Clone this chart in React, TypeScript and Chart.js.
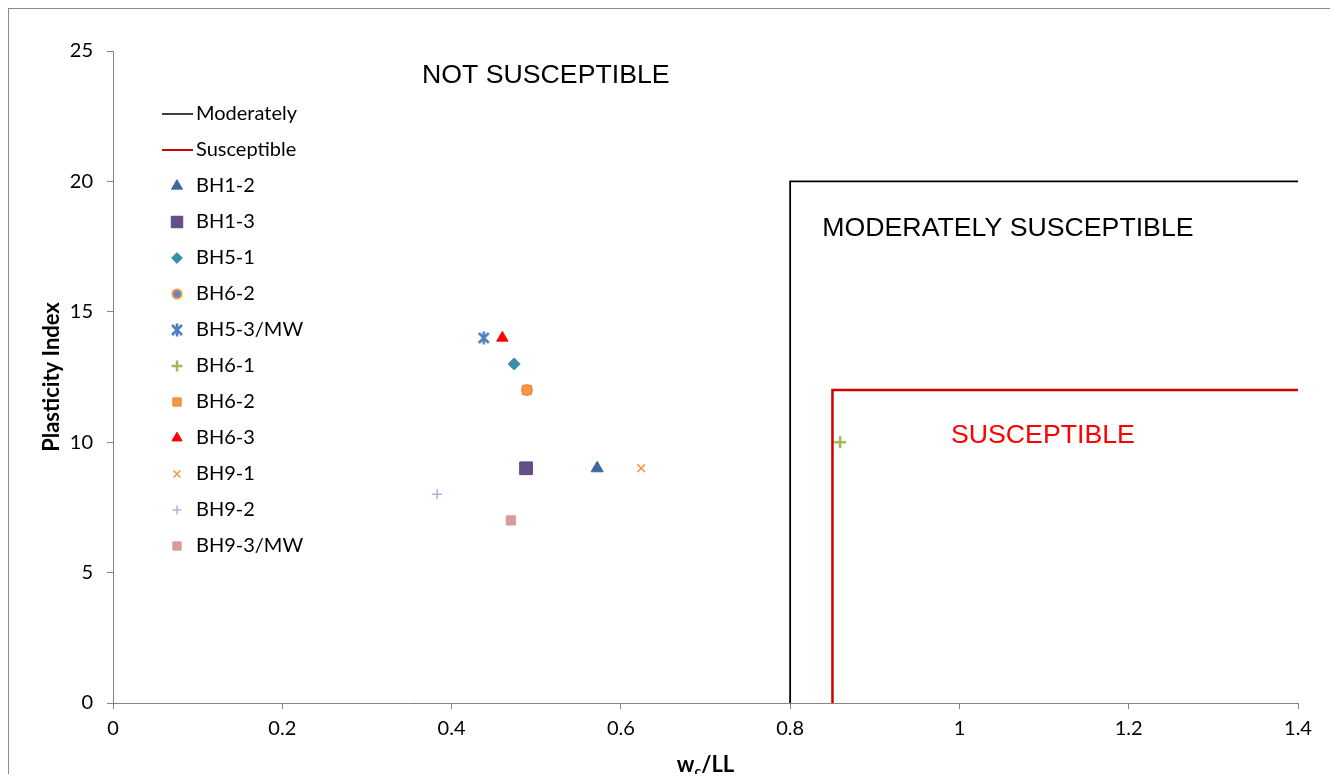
import React, { useEffect, useRef } from 'react';
import { Chart, registerables, PointElement } from 'chart.js';

Chart.register(...registerables);

// ---- data ----
const seriesNames = ['BH1-2', 'BH1-3', 'BH5-1', 'BH6-2', 'BH5-3/MW', 'BH6-1', 'BH6-2', 'BH6-3', 'BH9-1', 'BH9-2', 'BH9-3/MW'];
const seriesX = [0.572, 0.488, 0.474, 0.489, 0.438, 0.859, 0.489, 0.46, 0.624, 0.383, 0.47];
const seriesY = [9, 9, 13, 12, 14, 10, 12, 14, 9, 8, 7];

const moderatelyX = [0.8, 0.8, 1.4];
const moderatelyY = [0, 20, 20];
const susceptibleX = [0.85, 0.85, 1.4];
const susceptibleY = [0, 12, 12];

const annotationTexts = ['NOT SUSCEPTIBLE', 'MODERATELY SUSCEPTIBLE', 'SUSCEPTIBLE'];
const annotationX = [0.365, 0.838, 0.99];
const annotationY = [24.04, 18.17, 10.24];
const annotationColors = ['#000000', '#000000', '#FF0000'];

const xTickValues = [0, 0.2, 0.4, 0.6, 0.8, 1, 1.2, 1.4];
const yTickValues = [0, 5, 10, 15, 20, 25];

// ---- styles ----
function makeAsterisk(color: string): HTMLCanvasElement {
  const c = document.createElement('canvas');
  c.width = 16;
  c.height = 16;
  const g = c.getContext('2d')!;
  g.strokeStyle = color;
  g.lineWidth = 2.6;
  g.lineCap = 'butt';
  g.beginPath();
  g.moveTo(3, 3);
  g.lineTo(13, 13);
  g.moveTo(13, 3);
  g.lineTo(3, 13);
  g.moveTo(8, 1.5);
  g.lineTo(8, 14.5);
  g.stroke();
  return c;
}

const seriesStyles: any[] = [
  { pointStyle: 'triangle', radius: 7, bg: '#3E68A3', border: '#3E68A3', bw: 1 },
  { pointStyle: 'rect', radius: 9, bg: '#654F8A', border: '#5E4880', bw: 1 },
  { pointStyle: 'rectRot', radius: 6, bg: '#3A8EA5', border: '#3A8EA5', bw: 1 },
  { pointStyle: 'circle', radius: 5, bg: '#5B87C6', border: '#F79646', bw: 2 },
  { pointStyle: 'asterisk', radius: 7, bg: '#4F7FC0', border: '#4F7FC0', bw: 1 },
  { pointStyle: 'cross', radius: 6, bg: '#9BBB59', border: '#9BBB59', bw: 2.5 },
  { pointStyle: 'rect', radius: 6.5, bg: '#F79646', border: '#E8873A', bw: 1 },
  { pointStyle: 'triangle', radius: 6.5, bg: '#FF0000', border: '#FF0000', bw: 1 },
  { pointStyle: 'crossRot', radius: 5.5, bg: '#F79646', border: '#F79646', bw: 1.5 },
  { pointStyle: 'cross', radius: 5, bg: '#A5B8DA', border: '#A5B8DA', bw: 1.5 },
  { pointStyle: 'rect', radius: 6.5, bg: '#DA9A9A', border: '#DA9A9A', bw: 1 },
];

const FONT = 'Lato';
const TICK_SIZE = 20;
const AXIS_COLOR = '#868686';

const fmt = (v: number) => String(Number(Number(v).toFixed(1)));

const customPlugin = {
  id: 'customDraw',
  afterDraw(chart: any) {
    const ctx: CanvasRenderingContext2D = chart.ctx;
    const area = chart.chartArea;
    const xs = chart.scales.x;
    const ys = chart.scales.y;
    ctx.save();

    // outer frame (top and left edges visible)
    ctx.strokeStyle = '#8C8C8C';
    ctx.lineWidth = 2;
    ctx.beginPath();
    ctx.moveTo(0, 0);
    ctx.lineTo(chart.width, 0);
    ctx.stroke();
    ctx.lineWidth = 1;
    ctx.beginPath();
    ctx.moveTo(0.5, 0);
    ctx.lineTo(0.5, chart.height);
    ctx.stroke();

    // annotations
    ctx.font = `26.7px "Liberation Sans", Arial, sans-serif`;
    ctx.textAlign = 'left';
    ctx.textBaseline = 'middle';
    annotationTexts.forEach((t, i) => {
      ctx.fillStyle = annotationColors[i];
      ctx.fillText(t, xs.getPixelForValue(annotationX[i]), ys.getPixelForValue(annotationY[i]));
    });

    // legend
    const legX = area.left + 49;
    const legTextX = area.left + 83;
    const legY0 = area.top + 63;
    const step = 36;
    ctx.font = `${TICK_SIZE}px ${FONT}`;
    ctx.textBaseline = 'middle';
    ctx.fillStyle = '#000';
    const lineItems = [
      { label: 'Moderately', color: '#000000', w: 1.5 },
      { label: 'Susceptible', color: '#D00000', w: 2 },
    ];
    lineItems.forEach((it, i) => {
      const y = legY0 + i * step;
      ctx.strokeStyle = it.color;
      ctx.lineWidth = it.w;
      ctx.beginPath();
      ctx.moveTo(legX, y);
      ctx.lineTo(legX + 31, y);
      ctx.stroke();
      ctx.fillStyle = '#000';
      ctx.fillText(it.label, legTextX, y);
    });
    seriesNames.forEach((name, i) => {
      const y = legY0 + (i + 2) * step;
      const s = seriesStyles[i];
      const pe: any = new PointElement({
        x: legX + 15,
        y,
        options: {
          pointStyle: s.img || s.pointStyle,
          radius: s.radius * 0.9,
          rotation: 0,
          borderWidth: s.bw,
          backgroundColor: s.bg,
          borderColor: s.border,
        },
      } as any);
      ctx.save();
      pe.draw(ctx, { left: -1e4, top: -1e4, right: 1e4, bottom: 1e4 });
      ctx.restore();
      ctx.fillStyle = '#000';
      ctx.font = `${TICK_SIZE}px ${FONT}`;
      ctx.textBaseline = 'middle';
      ctx.textAlign = 'left';
      ctx.fillText(name, legTextX, y);
    });

    // y axis title
    ctx.save();
    ctx.translate(area.left - 61, (area.top + area.bottom) / 2);
    ctx.rotate(-Math.PI / 2);
    ctx.textAlign = 'center';
    ctx.textBaseline = 'middle';
    ctx.font = `bold 22px ${FONT}`;
    ctx.fillStyle = '#000';
    ctx.fillText('Plasticity Index', 0, 0);
    ctx.restore();

    // x axis title w_c/LL
    const baseY = area.bottom + 69;
    ctx.textBaseline = 'alphabetic';
    ctx.textAlign = 'left';
    ctx.fillStyle = '#000';
    const bigFont = `bold 22px ${FONT}`;
    const smallFont = `bold 14px ${FONT}`;
    ctx.font = bigFont;
    const wW = ctx.measureText('w').width;
    const restW = ctx.measureText('/LL').width;
    ctx.font = smallFont;
    const cW = ctx.measureText('c').width;
    const total = wW + cW + restW;
    let x = (area.left + area.right) / 2 - total / 2;
    ctx.font = bigFont;
    ctx.fillText('w', x, baseY);
    x += wW;
    ctx.font = smallFont;
    ctx.fillText('c', x, baseY + 4);
    x += cW;
    ctx.font = bigFont;
    ctx.fillText('/LL', x, baseY);

    ctx.restore();
  },
};

export default function App() {
  const canvasRef = useRef<HTMLCanvasElement | null>(null);

  useEffect(() => {
    const canvas = canvasRef.current;
    if (!canvas) return;
    document.documentElement.style.overflow = 'hidden';
    document.body.style.overflow = 'hidden';

    seriesStyles.forEach((s) => {
      if (s.pointStyle === 'asterisk') s.img = makeAsterisk(s.bg);
    });

    const lineDatasets = [
      {
        type: 'line',
        label: 'Moderately',
        data: moderatelyX.map((x, i) => ({ x, y: moderatelyY[i] })),
        borderColor: '#000000',
        borderWidth: 1.8,
        pointRadius: 0,
        fill: false,
        tension: 0,
        order: 100,
        clip: false,
      },
      {
        type: 'line',
        label: 'Susceptible',
        data: susceptibleX.map((x, i) => ({ x, y: susceptibleY[i] })),
        borderColor: '#D00000',
        borderWidth: 2.5,
        pointRadius: 0,
        fill: false,
        tension: 0,
        order: 99,
        clip: false,
      },
    ];

    const pointDatasets = seriesNames.map((name, i) => {
      const s = seriesStyles[i];
      return {
        type: 'scatter',
        label: name,
        data: [{ x: seriesX[i], y: seriesY[i] }],
        pointStyle: s.img || s.pointStyle,
        pointRadius: s.radius,
        pointBackgroundColor: s.bg,
        pointBorderColor: s.border,
        pointBorderWidth: s.bw,
        backgroundColor: s.bg,
        borderColor: s.border,
        showLine: false,
        order: 50 - i,
        clip: false,
      };
    });

    const chart = new Chart(canvas, {
      type: 'scatter',
      data: { datasets: [...lineDatasets, ...pointDatasets] as any },
      options: {
        animation: false,
        responsive: false,
        devicePixelRatio: 1,
        layout: { padding: { top: 43, right: 40, left: 0, bottom: 0 } },
        plugins: {
          legend: { display: false },
          tooltip: { enabled: false },
          title: { display: false },
        },
        scales: {
          x: {
            type: 'linear',
            min: 0,
            max: 1.4,
            afterFit: (scale: any) => {
              scale.height = 79;
            },
            afterBuildTicks: (scale: any) => {
              scale.ticks = xTickValues.map((v) => ({ value: v }));
            },
            ticks: {
              font: { family: FONT, size: TICK_SIZE },
              color: '#000',
              padding: 8,
              maxRotation: 0,
              callback: (v: any) => fmt(v),
            },
            grid: {
              drawOnChartArea: false,
              drawTicks: true,
              tickLength: 6,
              color: AXIS_COLOR,
            },
            border: { display: true, color: AXIS_COLOR, width: 1 },
            title: { display: false },
          },
          y: {
            type: 'linear',
            min: 0,
            max: 25,
            afterFit: (scale: any) => {
              scale.width = 105;
            },
            afterBuildTicks: (scale: any) => {
              scale.ticks = yTickValues.map((v) => ({ value: v }));
            },
            ticks: {
              font: { family: FONT, size: TICK_SIZE },
              color: '#000',
              padding: 14,
              callback: (v: any) => fmt(v),
            },
            grid: {
              drawOnChartArea: false,
              drawTicks: true,
              tickLength: 6,
              color: AXIS_COLOR,
            },
            border: { display: true, color: AXIS_COLOR, width: 1 },
            title: { display: false },
          },
        },
      } as any,
      plugins: [customPlugin],
    });

    return () => {
      chart.destroy();
    };
  }, []);

  return (
    <div style={{ position: 'relative', width: 1330, height: 774, marginBottom: -8, background: '#fff' }}>
      <canvas ref={canvasRef} width={1330} height={774} style={{ display: 'block' }} />
    </div>
  );
}
